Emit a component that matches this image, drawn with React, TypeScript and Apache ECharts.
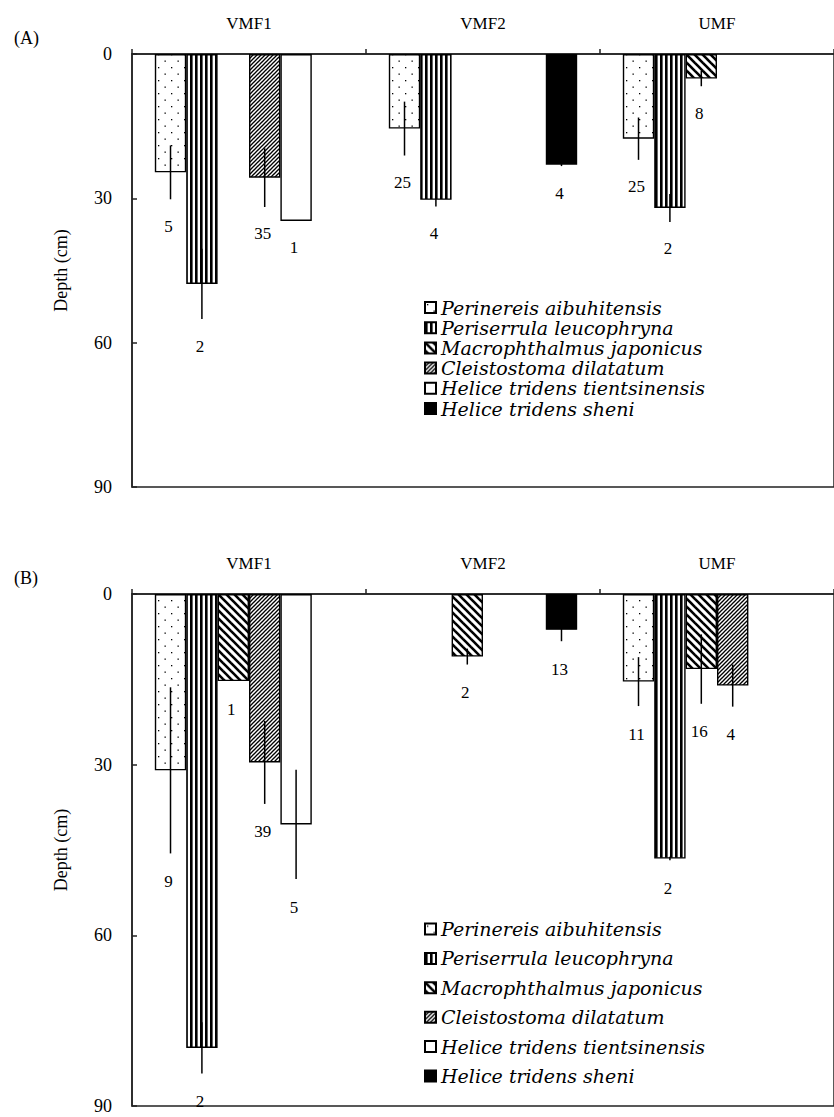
import React, { useEffect, useRef } from "react";
import * as echarts from "echarts";

const categories = ["VMF1", "VMF2", "UMF"];
const species = [
  "Perinereis aibuhitensis",
  "Periserrula leucophryna",
  "Macrophthalmus japonicus",
  "Cleistostoma dilatatum",
  "Helice tridens tientsinensis",
  "Helice tridens sheni",
];
const depthTicks = [0, 30, 60, 90];
const panelTitles = ["(A)", "(B)"];

// Panel A: mean depth (cm), error, sample size — rows follow `species`, columns follow `categories`
const meansA: (number | null)[][] = [
  [24.6, 15.5, 17.6],
  [47.8, 30.3, 32.0],
  [null, null, 5.1],
  [25.7, null, null],
  [34.7, null, null],
  [null, 23.0, null],
];
const errA: (number | null)[][] = [
  [5.6, 5.6, 4.4],
  [7.3, 1.4, 2.9],
  [null, null, 1.6],
  [6.1, null, null],
  [0, null, null],
  [null, 0.3, null],
];
const nA: (number | null)[][] = [
  [5, 25, 25],
  [2, 4, 2],
  [null, null, 8],
  [35, null, null],
  [1, null, null],
  [null, 4, null],
];

// Panel B
const meansB: (number | null)[][] = [
  [31.0, null, 15.4],
  [79.8, null, 46.5],
  [15.3, 11.0, 13.2],
  [29.6, null, 16.1],
  [40.5, null, null],
  [null, 6.3, null],
];
const errB: (number | null)[][] = [
  [14.6, null, 4.3],
  [4.5, null, 0.3],
  [0, 1.4, 6.1],
  [7.3, null, 3.7],
  [9.6, null, null],
  [null, 2.0, null],
];
const nB: (number | null)[][] = [
  [9, null, 11],
  [2, null, 2],
  [1, 2, 16],
  [39, null, 4],
  [5, null, null],
  [null, 13, null],
];

const GAP = 0.195;
const SERIF = "Liberation Serif";

function makeCanvas(w: number, h: number, draw: (ctx: CanvasRenderingContext2D) => void) {
  const c = document.createElement("canvas");
  c.width = w;
  c.height = h;
  const ctx = c.getContext("2d")!;
  ctx.fillStyle = "#fff";
  ctx.fillRect(0, 0, w, h);
  ctx.fillStyle = "#000";
  ctx.strokeStyle = "#000";
  draw(ctx);
  return { image: c, repeat: "repeat" } as any;
}

function patterns() {
  const dots = makeCanvas(13, 13, (ctx) => {
    ctx.fillRect(2, 2, 1.3, 1.3);
    ctx.fillRect(8.5, 8.5, 1.3, 1.3);
  });
  const vert = makeCanvas(5, 4, (ctx) => {
    ctx.fillRect(0, 0, 2.6, 4);
  });
  const back = makeCanvas(8, 8, (ctx) => {
    ctx.lineWidth = 2.6;
    for (let k = -1; k <= 1; k++) {
      ctx.beginPath();
      ctx.moveTo(k * 8 - 1, -1);
      ctx.lineTo(k * 8 + 9, 9);
      ctx.stroke();
    }
  });
  const fwd = makeCanvas(4, 4, (ctx) => {
    ctx.lineWidth = 1.3;
    for (let k = -1; k <= 1; k++) {
      ctx.beginPath();
      ctx.moveTo(k * 4 - 1, 5);
      ctx.lineTo(k * 4 + 5, -1);
      ctx.stroke();
    }
  });
  return [dots, vert, back, fwd, "#ffffff", "#000000"];
}

export default function App() {
  const ref = useRef<HTMLDivElement>(null);
  useEffect(() => {
    if (!ref.current) return;
    const chart = echarts.init(ref.current, null, { renderer: "svg" });
    const fills = patterns();

    const grids = [
      { left: 132, top: 54, right: -8, height: 433 },
      { left: 132, top: 594, right: -8, height: 512 },
    ];

    const barSeries = (panel: number, means: (number | null)[][]) =>
      species.map((name, i) => ({
        type: "bar",
        name,
        xAxisIndex: panel,
        yAxisIndex: panel,
        data: means[i],
        barGap: "0%",
        barCategoryGap: GAP * 100 + "%",
        silent: true,
        itemStyle: { color: fills[i], borderColor: "#000", borderWidth: 1.4 },
      }));

    const errSeries = (
      panel: number,
      means: (number | null)[][],
      errs: (number | null)[][],
      ns: (number | null)[][]
    ) => {
      const data: number[][] = [];
      means.forEach((row, s) =>
        row.forEach((m, c) => {
          if (m != null) data.push([c, s, m, errs[s][c] ?? 0, ns[s][c] ?? 0]);
        })
      );
      return {
        type: "custom",
        xAxisIndex: panel,
        yAxisIndex: panel,
        silent: true,
        z: 10,
        encode: { x: 0, y: 2 },
        data,
        renderItem: (params: any, api: any) => {
          const c = api.value(0);
          const s = api.value(1);
          const m = api.value(2);
          const e = api.value(3);
          const n = api.value(4);
          const band = api.size([1, 0])[0];
          const groupW = band * (1 - GAP);
          const barW = groupW / species.length;
          const base = api.coord([c, m]);
          const x = base[0] - groupW / 2 + (s + 0.5) * barW;
          const y1 = api.coord([c, m - e])[1];
          const y2 = api.coord([c, m + e])[1];
          const children: any[] = [];
          if (e > 0) {
            children.push({
              type: "line",
              shape: { x1: x, y1, x2: x, y2 },
              style: { stroke: "#000", lineWidth: 1.5 },
            });
          }
          children.push({
            type: "text",
            x: x - 2,
            y: y2 + (panel === 0 ? 27 : 28),
            style: {
              text: String(n),
              fill: "#000",
              font: `17px "${SERIF}"`,
              align: "center",
              verticalAlign: "middle",
            },
          });
          return { type: "group", children };
        },
      };
    };

    const xAxes = [0, 1].map((i) => ({
      type: "category",
      gridIndex: i,
      position: "top",
      data: categories,
      axisLine: { lineStyle: { color: "#222", width: 1.5 } },
      axisTick: { show: true, length: 5, lineStyle: { color: "#222", width: 1.5 } },
      axisLabel: { color: "#000", fontFamily: SERIF, fontSize: 17, margin: 22 },
    }));
    const yAxes = [0, 1].map((i) => ({
      type: "value",
      gridIndex: i,
      inverse: true,
      min: depthTicks[0],
      max: depthTicks[depthTicks.length - 1],
      interval: depthTicks[1] - depthTicks[0],
      name: "Depth (cm)",
      nameLocation: "middle",
      nameGap: 62,
      nameRotate: 90,
      nameTextStyle: { color: "#000", fontFamily: SERIF, fontSize: 18 },
      axisLine: { show: true, lineStyle: { color: "#222", width: 1.5 } },
      axisTick: { show: true, inside: true, length: 5, lineStyle: { color: "#222", width: 1.5 } },
      axisLabel: { color: "#000", fontFamily: SERIF, fontSize: 18, margin: 20 },
      splitLine: { show: false },
    }));

    const legendBase = {
      orient: "vertical",
      icon: "rect",
      itemWidth: 11,
      itemHeight: 11,
      data: species,
      selectedMode: false,
      left: 419,
    };
    const legendText = (lineHeight: number) => ({
      color: "#000",
      fontFamily: "DejaVu Serif",
      fontStyle: "italic",
      fontSize: 19,
      lineHeight,
    });

    chart.setOption({
      animation: false,
      backgroundColor: "#fff",
      title: panelTitles.map((t, i) => ({
        text: t,
        left: 9,
        top: i === 0 ? 24 : 564,
        textStyle: { color: "#000", fontFamily: SERIF, fontSize: 18, fontWeight: "normal" },
      })),
      grid: grids.map((g) => ({ ...g, show: true, borderColor: "#222", borderWidth: 1.5 })),
      xAxis: xAxes,
      yAxis: yAxes,
      legend: [
        { ...legendBase, top: 293, itemGap: 1.2, textStyle: legendText(16) },
        { ...legendBase, top: 914, itemGap: 9.4, textStyle: legendText(20) },
      ],
      series: [
        ...barSeries(0, meansA),
        ...barSeries(1, meansB),
        errSeries(0, meansA, errA, nA),
        errSeries(1, meansB, errB, nB),
      ],
    });
    return () => chart.dispose();
  }, []);
  return (
    <div
      ref={ref}
      style={{ position: "absolute", left: 0, top: 0, width: 834, height: 1117, background: "#fff" }}
    />
  );
}
